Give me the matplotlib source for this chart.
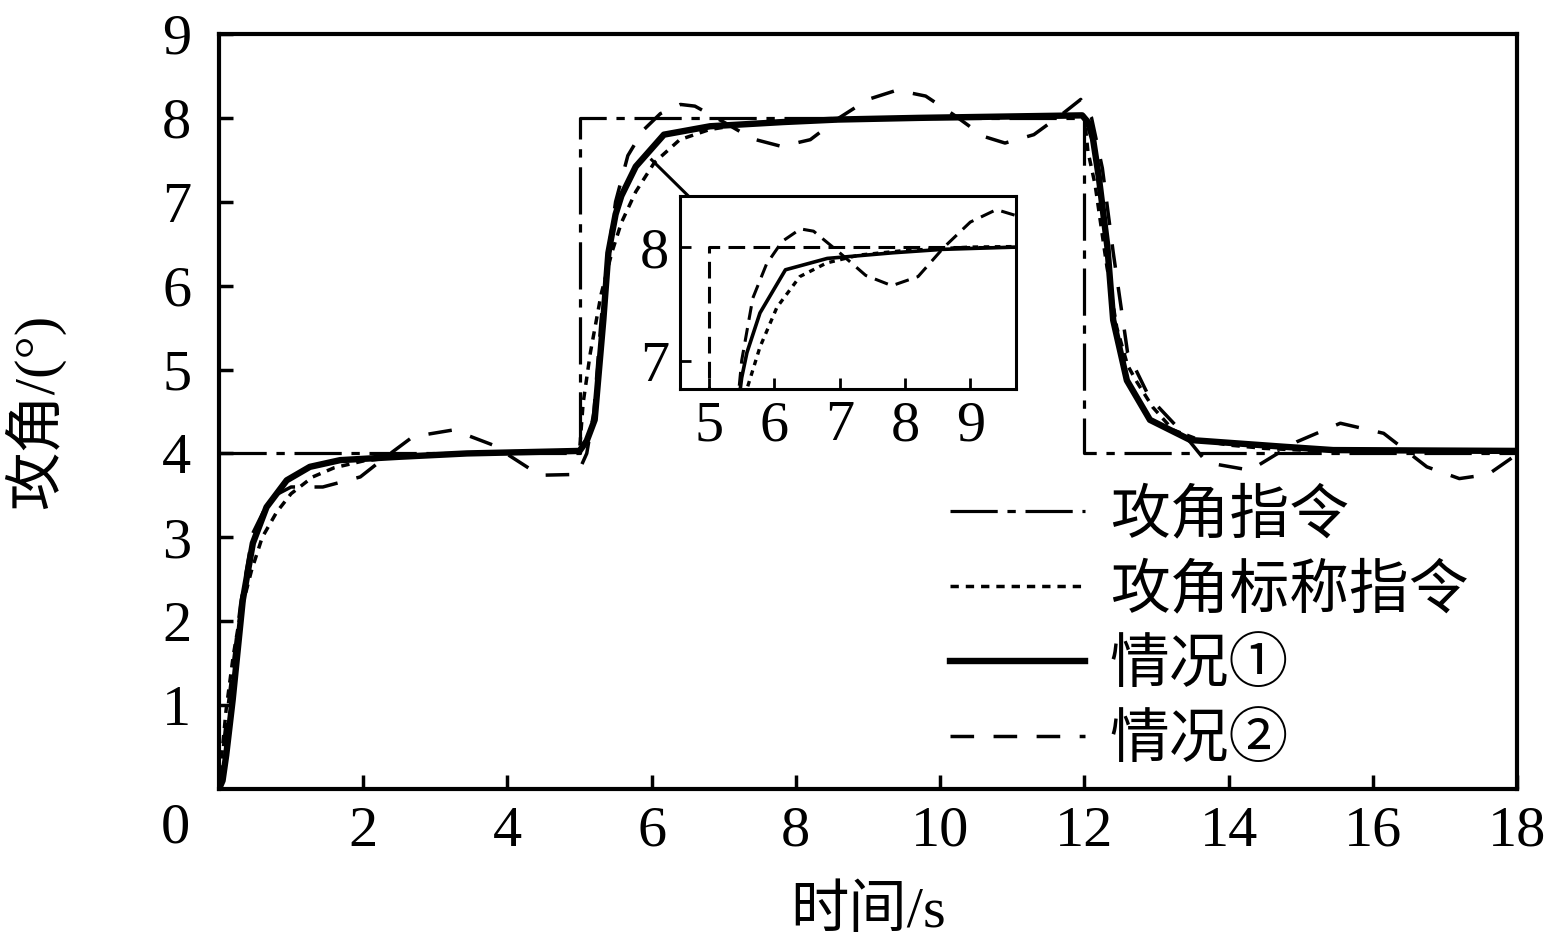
import matplotlib
matplotlib.use("Agg")
import matplotlib.pyplot as plt
import numpy as np

plt.rcParams['font.family'] = ['Liberation Serif', 'Noto Sans CJK SC']
plt.rcParams['lines.scale_dashes'] = False

# ---------------- data ----------------
cmd_t = [0, 5, 5, 12, 12, 18]
cmd_v = [4, 4, 8, 8, 4, 4]

nom_t = [0, 0.05, 0.1, 0.2, 0.3, 0.45, 0.6, 0.8, 1.0, 1.3, 1.6, 2.0, 2.5, 3.0, 3.5, 4.0, 5.0,
         5.05, 5.15, 5.3, 5.45, 5.58, 5.78, 6.04, 6.39, 6.8, 7.3, 8.0, 9.0, 12.0,
         12.05, 12.15, 12.3, 12.45, 12.6, 12.73, 12.95, 13.23, 13.6, 14.0, 14.5, 15.0, 16.0, 18.0]
nom_v = [0, 0.5, 0.95, 1.6, 2.1, 2.6, 3.0, 3.3, 3.52, 3.72, 3.83, 3.91, 3.96, 3.99, 4.0, 4.02, 4.03,
         4.6, 5.2, 5.9, 6.4, 6.75, 7.12, 7.47, 7.74, 7.86, 7.93, 7.97, 8.0, 8.02,
         7.6, 7.2, 6.3, 5.5, 5.05, 4.85, 4.55, 4.28, 4.16, 4.1, 4.06, 4.04, 4.03, 4.03]

c1_t = [0, 0.05, 0.1, 0.19, 0.33, 0.47, 0.66, 0.94, 1.26, 1.68, 2.5, 3.44, 5.0,
        5.1, 5.21, 5.33, 5.40, 5.5, 5.58, 5.78, 6.17, 6.81, 7.82, 8.58, 9.7, 11.97,
        12.05, 12.12, 12.2, 12.32, 12.40, 12.59, 12.91, 13.47, 14.76, 15.45, 18.0]
c1_v = [0, 0.1, 0.4, 1.06, 2.25, 2.93, 3.36, 3.68, 3.84, 3.92, 3.96, 4.0, 4.03,
        4.15, 4.4, 5.59, 6.39, 6.85, 7.07, 7.42, 7.8, 7.9, 7.95, 7.98, 8.0, 8.03,
        7.95, 7.75, 7.3, 6.46, 5.59, 4.87, 4.40, 4.16, 4.08, 4.04, 4.03]

c2_t = [0, 0.05, 0.1, 0.2, 0.3, 0.47, 0.71, 1.0, 1.44, 1.96, 2.3, 2.69, 3.25, 3.8, 4.45, 4.97,
        5.1, 5.2, 5.3, 5.4, 5.5, 5.67, 5.88, 6.12, 6.4, 6.6, 7.0, 7.4, 7.8, 8.2, 8.6, 9.0,
        9.4, 9.8, 10.2, 10.6, 10.9, 11.3, 11.7, 11.95, 12.1, 12.25, 12.4, 12.6, 12.9,
        13.37, 13.7, 14.3, 14.95, 15.55, 16.15, 16.75, 17.2, 17.6, 17.95, 18.0]
c2_v = [0, 0.4, 0.8, 1.5, 2.2, 3.05, 3.47, 3.6, 3.6, 3.72, 3.95, 4.2, 4.28, 4.1, 3.74, 3.75,
        4.0, 4.5, 5.6, 6.4, 7.0, 7.55, 7.85, 8.05, 8.16, 8.14, 7.95, 7.75, 7.66, 7.74, 8.0, 8.22,
        8.33, 8.26, 8.03, 7.78, 7.70, 7.80, 8.05, 8.22, 8.0, 7.4, 6.4, 5.2, 4.67,
        4.24, 3.89, 3.8, 4.14, 4.36, 4.24, 3.84, 3.70, 3.75, 3.96, 4.0]

labels = ['攻角指令', '攻角标称指令', '情况①', '情况②']
xticks = [2, 4, 6, 8, 10, 12, 14, 16, 18]
yticks = [1, 2, 3, 4, 5, 6, 7, 8, 9]
inset_xticks = [5, 6, 7, 8, 9]
inset_yticks = [7, 8]

# ---------------- styles ----------------
ls_cmd = (0, (34, 7, 6, 7))
ls_nom = (0, (6, 5))
ls_c2 = (0, (17, 14))

fig = plt.figure(figsize=(15.54, 9.44), dpi=100)
ax = fig.add_axes([0.1409, 0.1642, 0.8353, 0.7998])

ax.plot(cmd_t, cmd_v, color='black', lw=2.3, linestyle=ls_cmd, label=labels[0])
ax.plot(nom_t, nom_v, color='black', lw=2.5, linestyle=ls_nom, label=labels[1])
ax.plot(c1_t, c1_v, color='black', lw=4.6, linestyle='-', label=labels[2])
ax.plot(c2_t, c2_v, color='black', lw=2.5, linestyle=ls_c2, label=labels[3])

ax.set_xlim(0, 18)
ax.set_ylim(0, 9)
ax.set_xticks(xticks)
ax.set_yticks(yticks)
ax.tick_params(direction='in', length=10, width=2.5, labelsize=42)
ax.tick_params(axis='y', pad=20)
ax.tick_params(axis='x', pad=12)
for s in ax.spines.values():
    s.set_linewidth(3)
for lab in ax.get_xticklabels() + ax.get_yticklabels():
    lab.set_fontfamily('Liberation Serif')

ax.text(-0.61, -0.47, '0', fontsize=42, ha='center', va='center',
        fontfamily='Liberation Serif', clip_on=False)

ax.set_xlabel('时间/s', fontsize=42, labelpad=20)
ax.set_ylabel('攻角/(°)', fontsize=42, labelpad=70)

leg = ax.legend(loc='upper left', bbox_to_anchor=(0.563, 0.397), frameon=False,
                fontsize=43, handlelength=2.26, handletextpad=0.42, labelspacing=0.32,
                borderaxespad=0, borderpad=0)

# annotation line towards inset
ax.plot([6.0, 6.85], [7.5, 6.78], color='black', lw=2.2)

# ---------------- inset ----------------
ins = fig.add_axes([0.4376, 0.5879, 0.2162, 0.2045])
ins.set_facecolor('white')
ins.plot(cmd_t, cmd_v, color='black', lw=2.2, linestyle=(0, (12, 6)))
ins.plot(nom_t, nom_v, color='black', lw=2.4, linestyle=(0, (4, 4)))
ins.plot(c1_t, c1_v, color='black', lw=2.6, linestyle='-')
ins.plot(c2_t, c2_v, color='black', lw=2.2, linestyle=(0, (10, 6)))
ins.set_xlim(4.556, 9.70)
ins.set_ylim(6.75, 8.45)
ins.set_xticks(inset_xticks)
ins.set_yticks(inset_yticks)
ins.tick_params(direction='in', length=8, width=2, labelsize=42, pad=8)
for s in ins.spines.values():
    s.set_linewidth(2.2)
for lab in ins.get_xticklabels() + ins.get_yticklabels():
    lab.set_fontfamily('Liberation Serif')

fig.savefig('out.png', dpi=100)
